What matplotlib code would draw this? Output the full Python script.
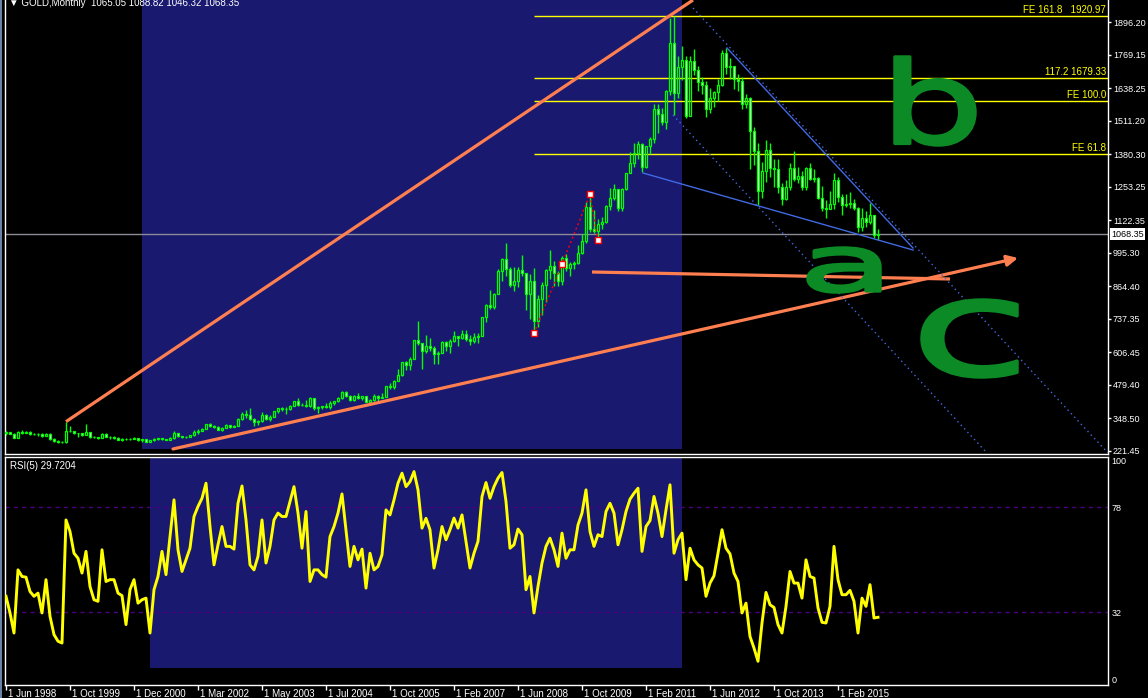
import numpy as np
import matplotlib
matplotlib.use("Agg")
import matplotlib.pyplot as plt
from matplotlib.patches import Rectangle, PathPatch
from matplotlib.lines import Line2D
from matplotlib.textpath import TextPath
from matplotlib.font_manager import FontProperties, fontManager
import matplotlib.transforms as mtransforms

# ---------------- data (monthly GOLD bars) ----------------
closes = [296.3, 288.9, 273.4, 293.8, 292.3, 294.0, 288.2, 287.3, 287.3, 279.6,
          286.6, 268.6, 261.0, 255.6, 254.8, 299.0, 299.1, 291.4, 290.3, 283.3,
          293.7, 276.8, 275.1, 272.3, 288.2, 276.8, 277.0, 273.7, 264.5, 269.1,
          270.0, 268.5, 272.7, 265.6, 266.7, 258.0, 263.2, 267.5, 270.6, 268.0,
          265.9, 273.0, 293.1, 278.8, 275.5, 276.5, 282.3, 296.9, 301.4, 308.2,
          326.6, 318.5, 316.0, 304.7, 312.8, 323.7, 316.9, 319.1, 347.2, 367.5,
          362.0, 347.5, 334.9, 336.8, 361.4, 346.0, 354.8, 375.6, 388.0, 384.0,
          386.3, 398.4, 416.3, 399.8, 402.0, 395.9, 427.4, 387.5, 393.3, 395.8,
          391.4, 407.3, 415.7, 428.3, 452.4, 438.0, 422.2, 435.5, 427.5, 435.7,
          414.5, 420.0, 437.1, 429.0, 433.3, 473.3, 470.8, 495.7, 517.0, 568.8,
          556.0, 582.0, 654.5, 643.0, 613.5, 632.5, 623.5, 599.3, 603.8, 646.7,
          632.0, 650.5, 672.0, 663.0, 679.4, 659.1, 650.5, 665.5, 672.0, 743.0,
          789.5, 783.5, 833.8, 923.3, 971.5, 933.5, 871.0, 885.8, 928.3, 918.0,
          833.0, 884.5, 730.8, 814.5, 869.8, 927.3, 942.0, 916.5, 883.3, 975.5,
          934.5, 949.5, 955.5, 995.8, 1040.0, 1175.8, 1087.5, 1078.5, 1109.5, 1115.5,
          1179.3, 1207.5, 1244.0, 1169.0, 1246.0, 1307.0, 1346.8, 1383.5, 1421.0, 1332.0,
          1411.0, 1439.0, 1556.0, 1536.5, 1505.5, 1628.5, 1813.5, 1620.0, 1722.0, 1746.0,
          1531.0, 1744.0, 1710.0, 1662.5, 1651.3, 1558.0, 1598.5, 1622.0, 1648.5, 1776.0,
          1719.0, 1726.0, 1675.0, 1664.8, 1578.0, 1598.3, 1469.0, 1394.5, 1234.5, 1314.5,
          1394.8, 1326.5, 1324.0, 1253.0, 1204.5, 1251.0, 1326.5, 1284.0, 1295.0, 1250.5,
          1327.0, 1282.0, 1287.0, 1210.5, 1171.0, 1167.0, 1184.0, 1279.0, 1213.0, 1183.0,
          1184.0, 1190.0, 1172.0, 1095.0, 1132.0, 1115.0, 1142.0, 1065.05, 1068.35]

highs = [301, 297, 290, 300, 302, 299, 298, 293, 291, 291,
         291, 290, 271, 264, 261, 336, 318, 300, 293, 292,
         326, 296, 281, 277, 292, 290, 280, 279, 275, 271,
         272, 273, 275, 272, 270, 268, 265, 274, 274, 272,
         270, 276, 300, 293, 280, 281, 285, 304, 306, 310,
         328, 331, 322, 320, 315, 326, 324, 322, 350, 372,
         383, 389, 352, 342, 372, 366, 363, 376, 390, 392,
         394, 400, 417, 427, 410, 419, 431, 427, 396, 397,
         409, 415, 418, 431, 456, 456, 440, 439, 447, 438,
         436, 425, 444, 439, 448, 476, 486, 497, 541, 570,
         574, 588, 655, 730, 641, 676, 663, 631, 611, 650,
         649, 658, 691, 672, 695, 693, 675, 683, 684, 745,
         795, 848, 839, 932, 975, 1033, 938, 940, 941, 988,
         917, 911, 936, 830, 881, 932, 1007, 962, 926, 981,
         990, 960, 965, 1025, 1070, 1195, 1222.8, 1161, 1128, 1136,
         1182, 1249, 1265, 1246, 1249, 1308, 1388, 1425, 1432, 1424,
         1412, 1447, 1576, 1577, 1560, 1632, 1913, 1921, 1764, 1804,
         1764, 1764, 1791, 1725, 1680, 1667, 1640, 1628, 1674, 1787,
         1796, 1755, 1723, 1694, 1680, 1617, 1605, 1488, 1424, 1348,
         1434, 1425, 1362, 1361, 1267, 1280, 1345, 1392, 1331, 1315,
         1332, 1345, 1323, 1290, 1255, 1200, 1238, 1307, 1293, 1224,
         1224, 1232, 1205, 1175, 1170, 1157, 1191, 1142, 1088.82]

lows = [283, 286, 271, 272, 288, 290, 285, 283, 280, 277,
        278, 266, 257, 253, 252, 252, 295, 288, 277, 280,
        282, 274, 271, 268, 271, 275, 270, 270, 263, 262,
        266, 266, 267, 262, 255, 255, 255, 262, 264, 265,
        264, 265, 270, 276, 272, 271, 277, 280, 289, 298,
        307, 315, 312, 302, 300, 310, 311, 314, 318, 342,
        352, 343, 320, 322, 335, 342, 340, 353, 370, 378,
        366, 380, 396, 398, 396, 392, 393, 382, 371, 386,
        388, 386, 400, 413, 426, 432, 418, 417, 425, 422,
        414, 413, 416, 418, 429, 433, 462, 464, 494, 516,
        538, 539, 580, 636, 542, 605, 612, 561, 560, 605,
        611, 603, 647, 633, 660, 652, 636, 643, 642, 671,
        725, 775, 775, 833, 885, 903, 861, 847, 860, 904,
        773, 735, 681, 705, 751, 802, 892, 865, 865, 871,
        923, 905, 933, 950, 992, 1033, 1075, 1072, 1044.35, 1087,
        1112, 1164, 1202, 1157, 1157, 1242, 1306, 1329, 1361, 1309,
        1328, 1381, 1422, 1462, 1495, 1478, 1610, 1535, 1600, 1670,
        1523, 1528, 1690, 1627, 1614, 1527, 1540, 1564, 1589, 1647,
        1693, 1672, 1635, 1626, 1555, 1562, 1321, 1338, 1180, 1208,
        1270, 1291, 1251, 1227, 1182, 1200, 1240, 1277, 1268, 1240,
        1240, 1280, 1273, 1205, 1160, 1131, 1167, 1168, 1192, 1142,
        1175, 1170, 1162, 1077, 1080, 1097, 1106, 1052, 1046.32]

first_open = 293.0

rsi_values = [38.9, 31.6, 22.8, 50.5, 47.6, 47.3, 41.0, 38.9, 40.3, 31.6,
              46.2, 30.1, 22.1, 19.2, 18.4, 72.4, 67.3, 57.8, 55.6, 49.1,
              58.6, 43.2, 37.4, 36.7, 59.3, 45.4, 46.2, 46.2, 40.3, 39.2,
              26.5, 41.8, 46.2, 35.9, 37.4, 38.1, 22.8, 41.8, 47.6, 58.6,
              48.4, 65.1, 81.2, 59.3, 49.8, 54.9, 60.0, 73.9, 78.3, 81.9,
              88.5, 69.5, 52.7, 61.5, 69.5, 60.8, 60.8, 59.6, 79.7, 87.3,
              72.4, 52.7, 50.5, 56.4, 72.4, 53.5, 60.8, 72.4, 75.4, 73.9,
              73.9, 80.5, 87.0, 75.4, 60.0, 76.1, 45.4, 50.5, 50.5, 48.4,
              47.3, 65.1, 69.5, 75.4, 83.8, 68.1, 52.0, 60.8, 54.9, 59.6,
              42.5, 57.8, 50.5, 52.0, 57.1, 76.8, 74.6, 81.2, 88.5, 92.9,
              87.0, 89.2, 93.6, 85.6, 68.8, 73.1, 68.1, 51.3, 59.3, 69.5,
              63.7, 68.1, 73.2, 68.8, 74.6, 63.0, 51.3, 57.8, 63.0, 82.7,
              88.8, 81.9, 87.0, 90.7, 93.2, 80.5, 60.0, 61.5, 68.4, 65.9,
              41.8, 47.6, 31.6, 43.2, 53.5, 60.8, 64.4, 59.3, 52.0, 66.6,
              55.6, 59.3, 59.3, 70.2, 75.4, 85.6, 67.3, 60.8, 65.9, 65.1,
              76.1, 79.7, 75.4, 61.5, 68.1, 76.1, 81.5, 84.1, 86.3, 58.6,
              69.5, 72.1, 82.7, 75.4, 65.1, 76.8, 87.8, 57.8, 63.7, 66.6,
              46.2, 60.0, 54.9, 52.7, 51.3, 38.9, 44.7, 47.9, 57.8, 68.1,
              60.0, 57.5, 49.1, 45.4, 31.6, 35.9, 21.3, 16.2, 10.4, 27.2,
              40.6, 35.2, 34.0, 26.5, 22.8, 34.5, 49.8, 44.7, 44.7, 38.1,
              54.9, 47.6, 46.9, 33.8, 27.5, 27.2, 34.5, 60.8, 46.2, 39.6,
              39.6, 41.5, 36.7, 22.8, 38.1, 34.5, 44.0, 29.4, 29.7]

price_ticks = [221.45, 348.50, 479.40, 606.45, 737.35, 864.40, 995.30,
               1122.35, 1253.25, 1380.30, 1511.20, 1638.25, 1769.15, 1896.20]
rsi_ticks = [100, 78, 32, 0]
rsi_levels = [78, 32]
date_labels = ["1 Jun 1998", "1 Oct 1999", "1 Dec 2000", "1 Mar 2002",
               "1 May 2003", "1 Jul 2004", "1 Oct 2005", "1 Feb 2007",
               "1 Jun 2008", "1 Oct 2009", "1 Feb 2011", "1 Jun 2012",
               "1 Oct 2013", "1 Feb 2015"]
bars_per_label = 16

bid_price = 1068.35
header = "\u25bc GOLD,Monthly  1065.05 1088.82 1046.32 1068.35"
rsi_header = "RSI(5) 29.7204"

# Fibonacci expansion (A, mid-handle, B, C) and its levels
fe_bars = [132, 139, 146, 148]
fe_prices = [681.0, 951.9, 1222.8, 1044.35]
fe_levels = [1920.97, 1679.33, 1586.14, 1379.18]
fe_texts = ["FE 161.8   1920.97", "117.2 1679.33", "FE 100.0", "FE 61.8"]

# highlighted time ranges (bars)
rect_main = (34.0, 169.0, 229.2)   # start bar, end bar, bottom price
rect_rsi = (36.0, 169.0, 7.5)

# trend lines: (bar0, price0, bar1, price1)
orange_lines = [(15.0, 336.0, 171.75, 1982.0),
                (146.5, 920.2, 236.0, 892.9)]
orange_arrow = (41.75, 229.2, 253.0, 974.9)
blue_solid = [(159.25, 1306.7, 226.75, 1006.1),
              (180.25, 1794.7, 226.75, 1013.9)]
blue_dotted = [(171.75, 1950.9, 275.5, 213.6),
               (166.75, 1533.1, 245.25, 213.6)]
# hand-drawn wave letters: (letter, bar0, price_low, bar1, price_high)
wave_boxes = [("b", 222.25, 1416.0, 242.25, 1759.6),
              ("a", 200.5, 842.1, 218.5, 1013.9),
              ("c", 229.0, 510.3, 252.75, 810.9)]

# ---------------- figure ----------------
W, H = 1148, 698
BG = "black"
LIME = "#00ff00"
NAVY = "#191970"
CORAL = "#ff7f50"
ROYAL = "#4169e1"
GREEN = "#0b8a25"
FONT = ["Liberation Sans", "DejaVu Sans"]
installed = {f.name for f in fontManager.ttflist}
if "Liberation Sans Narrow" in installed:
    AXFONT, AXSIZE = ["Liberation Sans Narrow", "DejaVu Sans"], 7.8
else:
    AXFONT, AXSIZE = FONT, 6.5

fig = plt.figure(figsize=(W / 100, H / 100), dpi=100, facecolor=BG)
ax = fig.add_axes([5 / W, 1 - 454 / H, 1103 / W, 454 / H], facecolor=BG)
ar = fig.add_axes([5 / W, 13 / H, 1103 / W, 228 / H], facecolor=BG)

n = len(closes)
x = np.arange(n)
c = np.array(closes, float)
hi = np.array(highs, float)
lo = np.array(lows, float)
o = np.concatenate([[first_open], c[:-1]])

xlim = (-0.25, 275.5)
ax.set_xlim(*xlim)
ax.set_ylim(209.67, 1982.1)
ar.set_xlim(*xlim)
ar.set_ylim(0, 100)

# background rectangles
ax.add_patch(Rectangle((rect_main[0], rect_main[2]), rect_main[1] - rect_main[0],
                       3000, facecolor=NAVY, edgecolor="none", zorder=0))
ar.add_patch(Rectangle((rect_rsi[0], rect_rsi[2]), rect_rsi[1] - rect_rsi[0],
                       200, facecolor=NAVY, edgecolor="none", zorder=0))

# bid line
ax.axhline(bid_price, color="#8c8c96", lw=1, zorder=1)

# Fibo expansion levels
for lev, txt in zip(fe_levels, fe_texts):
    ax.hlines(lev, fe_bars[0], xlim[1], color="#ffff00", lw=1, zorder=2)
    ax.text(xlim[1] - 0.5, lev + 4, txt, color="#ffff00", fontsize=7,
            ha="right", va="bottom", family=FONT, zorder=6)

# candles
top = np.maximum(o, c)
bot = np.minimum(o, c)
ax.vlines(x, top, hi, color=LIME, lw=1, zorder=3)
ax.vlines(x, lo, bot, color=LIME, lw=1, zorder=3)
up = c >= o
ax.bar(x[up], (top - bot)[up], bottom=bot[up], width=0.55, facecolor="none",
       edgecolor=LIME, linewidth=0.9, zorder=4)
ax.bar(x[~up], (top - bot)[~up], bottom=bot[~up], width=0.55, facecolor="white",
       edgecolor=LIME, linewidth=0.9, zorder=4)

# red fibo base line with handles
ax.plot([fe_bars[0], fe_bars[2], fe_bars[3]], [fe_prices[0], fe_prices[2], fe_prices[3]],
        color="red", lw=1, ls=(0, (1.5, 2)), zorder=5)
ax.plot(fe_bars, fe_prices, ls="none", marker="s", ms=4, mfc="white", mec="red",
        mew=1, zorder=6)

# trend lines
for b0, p0, b1, p1 in orange_lines:
    ax.plot([b0, b1], [p0, p1], color=CORAL, lw=2.3, zorder=5, solid_capstyle="butt")
b0, p0, b1, p1 = orange_arrow
ax.annotate("", xy=(b1, p1), xytext=(b0, p0),
            arrowprops=dict(arrowstyle="-|>", color=CORAL, lw=2.3, mutation_scale=16,
                            shrinkA=0, shrinkB=0), zorder=5)
for b0, p0, b1, p1 in blue_solid:
    ax.plot([b0, b1], [p0, p1], color=ROYAL, lw=1, zorder=5)
for b0, p0, b1, p1 in blue_dotted:
    ax.plot([b0, b1], [p0, p1], color=ROYAL, lw=1, ls=(0, (1, 2.5)), zorder=5)

# price axis
ax.yaxis.tick_right()
ax.set_yticks(price_ticks)
ax.set_yticklabels([f"{v:.2f}" for v in price_ticks], family=AXFONT)
ax.tick_params(axis="y", colors="white", length=2.3, width=1, pad=1.2, labelsize=AXSIZE)
ax.set_xticks([])
for side, sp in ax.spines.items():
    sp.set_color("white")
    sp.set_linewidth(1)
ax.spines["top"].set_visible(False)

# RSI panel
for lv in rsi_levels:
    ar.axhline(lv, color="#4b0082", lw=1, ls=(0, (3, 3)), zorder=1)
ar.plot(x, rsi_values, color="#ffff00", lw=2.1, zorder=3, solid_joinstyle="round")
ar.yaxis.tick_right()
ar.set_yticks(rsi_ticks)
ar.set_yticklabels([str(v) for v in rsi_ticks], family=AXFONT)
ar.tick_params(axis="y", colors="white", length=0, pad=2.5, labelsize=AXSIZE)
labs = ar.get_yticklabels()
labs[0].set_va("top")
labs[-1].set_va("bottom")
tick_pos = np.arange(len(date_labels)) * bars_per_label
ar.set_xticks(tick_pos)
ar.set_xticklabels(date_labels, family=FONT)
ar.tick_params(axis="x", colors="white", direction="out", length=3.6, width=1,
               pad=-0.6, labelsize=7)
shift = mtransforms.ScaledTranslation(2 / 100, 0, fig.dpi_scale_trans)
for lab in ar.get_xticklabels():
    lab.set_ha("left")
    lab.set_transform(lab.get_transform() + shift)
for sp in ar.spines.values():
    sp.set_color("white")
    sp.set_linewidth(1)

# hand-drawn wave letters, fitted to their boxes
fp = FontProperties(family="DejaVu Sans", weight="normal")
for ch, b0, p0, b1, p1 in wave_boxes:
    tp = TextPath((0, 0), ch, size=100, prop=fp)
    ext = tp.get_extents()
    X0, Y0 = ax.transData.transform((b0, p0))
    X1, Y1 = ax.transData.transform((b1, p1))
    tr = (mtransforms.Affine2D().translate(-ext.x0, -ext.y0)
          .scale((X1 - X0) / ext.width, (Y1 - Y0) / ext.height)
          .translate(X0, Y0))
    fig.add_artist(PathPatch(tp, transform=tr, facecolor=GREEN, edgecolor=GREEN,
                             lw=2.5, joinstyle="round", zorder=7))

# headers and bid label
fig.text(9 / W, 1 - 6 / H, header, color="white", fontsize=7, va="baseline",
         family=FONT)
fig.text(10 / W, 1 - 469 / H, rsi_header, color="white", fontsize=7, va="baseline",
         family=FONT)
bid_y = ax.transData.transform((0, bid_price))[1]
fig.text(1111 / W, bid_y / H, f"{bid_price:.2f}", color="black", fontsize=AXSIZE,
         va="center", ha="left", family=AXFONT,
         bbox=dict(facecolor="white", edgecolor="none", boxstyle="square,pad=0.15"))

# window border
fig.add_artist(Line2D([0.8 / W, 0.8 / W], [0, 1], color="#7f9dc8", lw=1.2))

fig.savefig("out.png", dpi=100, facecolor=BG)
